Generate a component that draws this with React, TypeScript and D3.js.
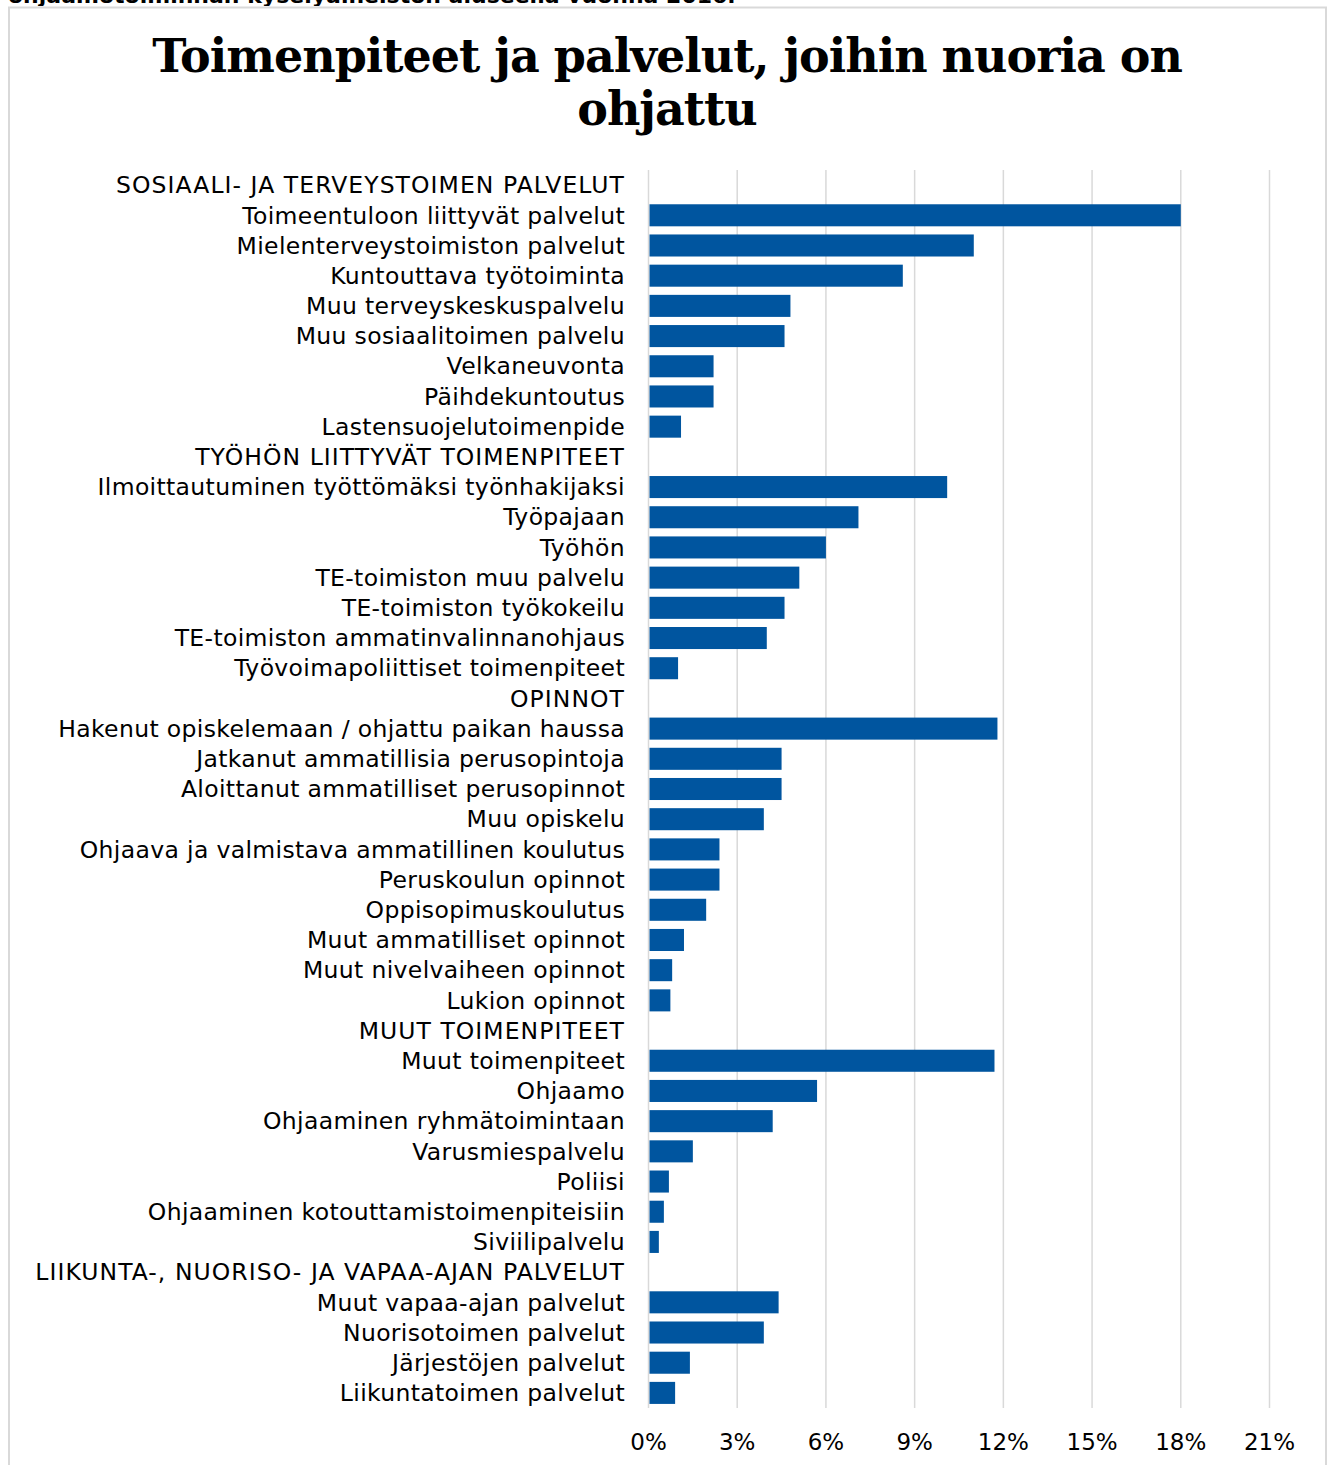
import React from "react";
import * as d3 from "d3";

const categories = [
  "SOSIAALI- JA TERVEYSTOIMEN PALVELUT",
  "Toimeentuloon liittyvät palvelut",
  "Mielenterveystoimiston palvelut",
  "Kuntouttava työtoiminta",
  "Muu terveyskeskuspalvelu",
  "Muu sosiaalitoimen palvelu",
  "Velkaneuvonta",
  "Päihdekuntoutus",
  "Lastensuojelutoimenpide",
  "TYÖHÖN LIITTYVÄT TOIMENPITEET",
  "Ilmoittautuminen työttömäksi työnhakijaksi",
  "Työpajaan",
  "Työhön",
  "TE-toimiston muu palvelu",
  "TE-toimiston työkokeilu",
  "TE-toimiston ammatinvalinnanohjaus",
  "Työvoimapoliittiset toimenpiteet",
  "OPINNOT",
  "Hakenut opiskelemaan / ohjattu paikan haussa",
  "Jatkanut ammatillisia perusopintoja",
  "Aloittanut ammatilliset perusopinnot",
  "Muu opiskelu",
  "Ohjaava ja valmistava ammatillinen koulutus",
  "Peruskoulun opinnot",
  "Oppisopimuskoulutus",
  "Muut ammatilliset opinnot",
  "Muut nivelvaiheen opinnot",
  "Lukion opinnot",
  "MUUT TOIMENPITEET",
  "Muut toimenpiteet",
  "Ohjaamo",
  "Ohjaaminen ryhmätoimintaan",
  "Varusmiespalvelu",
  "Poliisi",
  "Ohjaaminen kotouttamistoimenpiteisiin",
  "Siviilipalvelu",
  "LIIKUNTA-, NUORISO- JA VAPAA-AJAN PALVELUT",
  "Muut vapaa-ajan palvelut",
  "Nuorisotoimen palvelut",
  "Järjestöjen palvelut",
  "Liikuntatoimen palvelut",
];

// percent values (null = group header row)
const values: (number | null)[] = [
  null, 18.0, 11.0, 8.6, 4.8, 4.6, 2.2, 2.2, 1.1,
  null, 10.1, 7.1, 6.0, 5.1, 4.6, 4.0, 1.0,
  null, 11.8, 4.5, 4.5, 3.9, 2.4, 2.4, 1.95, 1.2, 0.8, 0.74,
  null, 11.7, 5.7, 4.2, 1.5, 0.69, 0.52, 0.35,
  null, 4.4, 3.9, 1.4, 0.9,
];

const ticks = [0, 3, 6, 9, 12, 15, 18, 21];

const titleLines = ["Toimenpiteet ja palvelut, joihin nuoria on", "ohjattu"];
const cutText = "ohjaamotoiminnan kyselyaineiston aluseella vuonna 2016.";

export default function App() {
  const W = 1332;
  const H = 1465;
  const x = d3.scaleLinear().domain([0, 21]).range([648.5, 1269.5]);
  const y = d3
    .scaleBand<string>()
    .domain(categories)
    .range([170, 1408])
    .paddingInner(0.27)
    .paddingOuter(0.135);
  const font = "'DejaVu Sans', Verdana, sans-serif";
  return (
    <svg
      width={W}
      height={H}
      style={{ position: "absolute", left: 0, top: 0, background: "#fff" }}
    >
      <text
        x={8}
        y={3}
        fontFamily={font}
        fontWeight="bold"
        fontSize={22}
        fill="#000"
      >
        {cutText}
      </text>
      <rect x={0} y={6} width={W} height={H} fill="#fff" />
      <rect
        x={9}
        y={7.5}
        width={1317}
        height={1500}
        fill="#fff"
        stroke="#d9d9d9"
        strokeWidth={2}
      />
      {titleLines.map((t, i) => (
        <text
          key={i}
          x={667}
          y={72 + i * 53}
          textAnchor="middle"
          fontFamily="'DejaVu Serif', Georgia, serif"
          fontWeight="bold"
          fontSize={46}
          letterSpacing={-1}
          fill="#000"
        >
          {t}
        </text>
      ))}
      {ticks.map((t) => (
        <line
          key={t}
          x1={x(t)}
          x2={x(t)}
          y1={170}
          y2={1408}
          stroke="#d9d9d9"
          strokeWidth={1.5}
        />
      ))}
      {categories.map((c, i) => {
        const v = values[i];
        const yy = y(c)!;
        const isHeader = v === null;
        return (
          <g key={c}>
            <text
              x={625}
              y={yy + y.bandwidth() / 2}
              dy="0.35em"
              textAnchor="end"
              fontFamily={font}
              fontSize={23.5}
              letterSpacing={isHeader ? 1.05 : 0.35}
              fill="#000"
            >
              {c}
            </text>
            {v !== null && (
              <rect
                x={x(0) + 1}
                y={yy}
                width={x(v) - x(0) - 1}
                height={y.bandwidth()}
                fill="#00559f"
              />
            )}
          </g>
        );
      })}
      {ticks.map((t) => (
        <text
          key={t}
          x={x(t)}
          y={1442}
          dy="0.35em"
          textAnchor="middle"
          fontFamily={font}
          fontSize={23}
          fill="#000"
        >
          {t + "%"}
        </text>
      ))}
    </svg>
  );
}
